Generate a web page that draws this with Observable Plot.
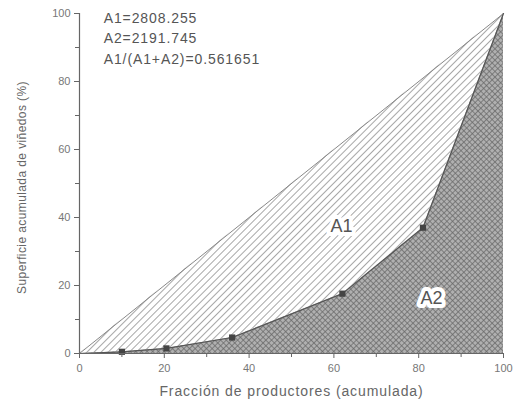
<!DOCTYPE html>
<html><head><meta charset="utf-8">
<script src="https://cdn.jsdelivr.net/npm/d3@7"></script>
<script src="https://cdn.jsdelivr.net/npm/@observablehq/plot@0.6"></script>
<style>body{margin:0;background:#fff;font-family:"Liberation Sans",Arial,sans-serif;}</style>
</head><body><div id="chart"></div>
<script>
const productores = [0, 10, 20.5, 36, 62, 81, 100];
const superficie  = [0, 0.5, 1.5, 4.7, 17.6, 37, 100];
const puntosX = [10, 20.5, 36, 62, 81];
const puntosY = [0.5, 1.5, 4.7, 17.6, 37];
const anotaciones = ["A1=2808.255", "A2=2191.745", "A1/(A1+A2)=0.561651"];
const anotacionesY = [98.5, 92.6, 86.6];
const etiquetas = [{t: "A1", x: 61.8, y: 37.4}, {t: "A2", x: 83, y: 16.2}];

const curva = productores.map((x, i) => ({x, y: superficie[i]}));
const puntos = puntosX.map((x, i) => ({x, y: puntosY[i]}));
const igualdad = [{x: 0, y: 0}, {x: 100, y: 100}];
const areaA1 = curva.map(d => ({x: d.x, y1: d.y, y2: d.x}));
const notas = anotaciones.map((t, i) => ({t, y: anotacionesY[i]}));
const gray = "#666";
const cv = "linear";

const plot = Plot.plot({
  width: 519, height: 404,
  marginLeft: 79, marginRight: 16, marginTop: 13, marginBottom: 51,
  style: {fontFamily: "'Liberation Sans', Arial, sans-serif", color: gray, background: "#fff"},
  x: {domain: [0, 100], label: null},
  y: {domain: [0, 100], label: null},
  marks: [
    Plot.areaY(areaA1, {x: "x", y1: "y1", y2: "y2", fill: "url(#hatchA1)", curve: cv}),
    Plot.areaY(curva, {x: "x", y1: 0, y2: "y", fill: "url(#hatchA2)", curve: cv}),
    Plot.line(igualdad, {x: "x", y: "y", stroke: "#888", strokeWidth: 1}),
    Plot.line(curva, {x: "x", y: "y", stroke: "#555", strokeWidth: 1.2, curve: cv}),
    Plot.dot(puntos, {x: "x", y: "y", symbol: "square", r: 3.5, fill: "#444"}),
    Plot.text(etiquetas, {x: "x", y: "y", text: "t", fontSize: 18, fill: "#555",
      stroke: "#fff", strokeWidth: 8, paintOrder: "stroke"}),
    Plot.ruleX([0], {stroke: gray, strokeWidth: 1.2}),
    Plot.ruleY([0], {stroke: gray, strokeWidth: 1.2}),
    Plot.axisX({ticks: d3.range(0, 101, 20), tickSize: 5, fontSize: 11, tickPadding: 6, stroke: gray, fill: "#777"}),
    Plot.axisX({ticks: d3.range(10, 100, 20), tickSize: 4, text: null, stroke: gray}),
    Plot.axisY({ticks: d3.range(0, 101, 20), tickSize: 5, fontSize: 11, tickPadding: 4, stroke: gray, fill: "#777"}),
    Plot.axisY({ticks: d3.range(10, 100, 20), tickSize: 4, text: null, stroke: gray}),
    Plot.text(notas, {x: 5.7, y: "y", text: "t", textAnchor: "start", fontSize: 14, fill: "#555"}),
    Plot.text(["Fracción de productores (acumulada)"], {frameAnchor: "bottom", textAnchor: "middle", dy: 42, fontSize: 14, fill: "#666"}),
    Plot.text(["Superficie acumulada de viñedos (%)"], {frameAnchor: "left", textAnchor: "middle", dx: -57, dy: 4, rotate: -90, fontSize: 12, fill: "#666"})
  ]
});

d3.select(plot).selectAll("text").filter(function() {
  const s = this.textContent;
  return s.startsWith("A1=") || s.startsWith("A2=") || s.startsWith("A1/");
}).style("letter-spacing", "0.9px");
d3.select(plot).selectAll("text").filter(function() {
  const s = this.textContent;
  return s.startsWith("Fracción");
}).style("letter-spacing", "0.9px");
d3.select(plot).selectAll("text").filter(function() {
  return this.textContent.startsWith("Superficie");
}).style("letter-spacing", "0.4px");

const ns = "http://www.w3.org/2000/svg";
const defs = document.createElementNS(ns, "defs");
defs.innerHTML = `
<pattern id="hatchA1" patternUnits="userSpaceOnUse" width="5" height="5" patternTransform="rotate(45)">
  <rect width="5" height="5" fill="#fff"/>
  <line x1="0" y1="0" x2="0" y2="5" stroke="#8a8a8a" stroke-width="1.5"/>
</pattern>
<pattern id="hatchA2" patternUnits="userSpaceOnUse" width="4" height="4" patternTransform="rotate(45)">
  <rect width="4" height="4" fill="#b0b0b0"/>
  <line x1="0" y1="0" x2="0" y2="4" stroke="#666" stroke-width="1.4"/>
  <line x1="0" y1="0" x2="4" y2="0" stroke="#666" stroke-width="1.4"/>
</pattern>`;
plot.insertBefore(defs, plot.firstChild);
document.getElementById("chart").appendChild(plot);
</script></body></html>
